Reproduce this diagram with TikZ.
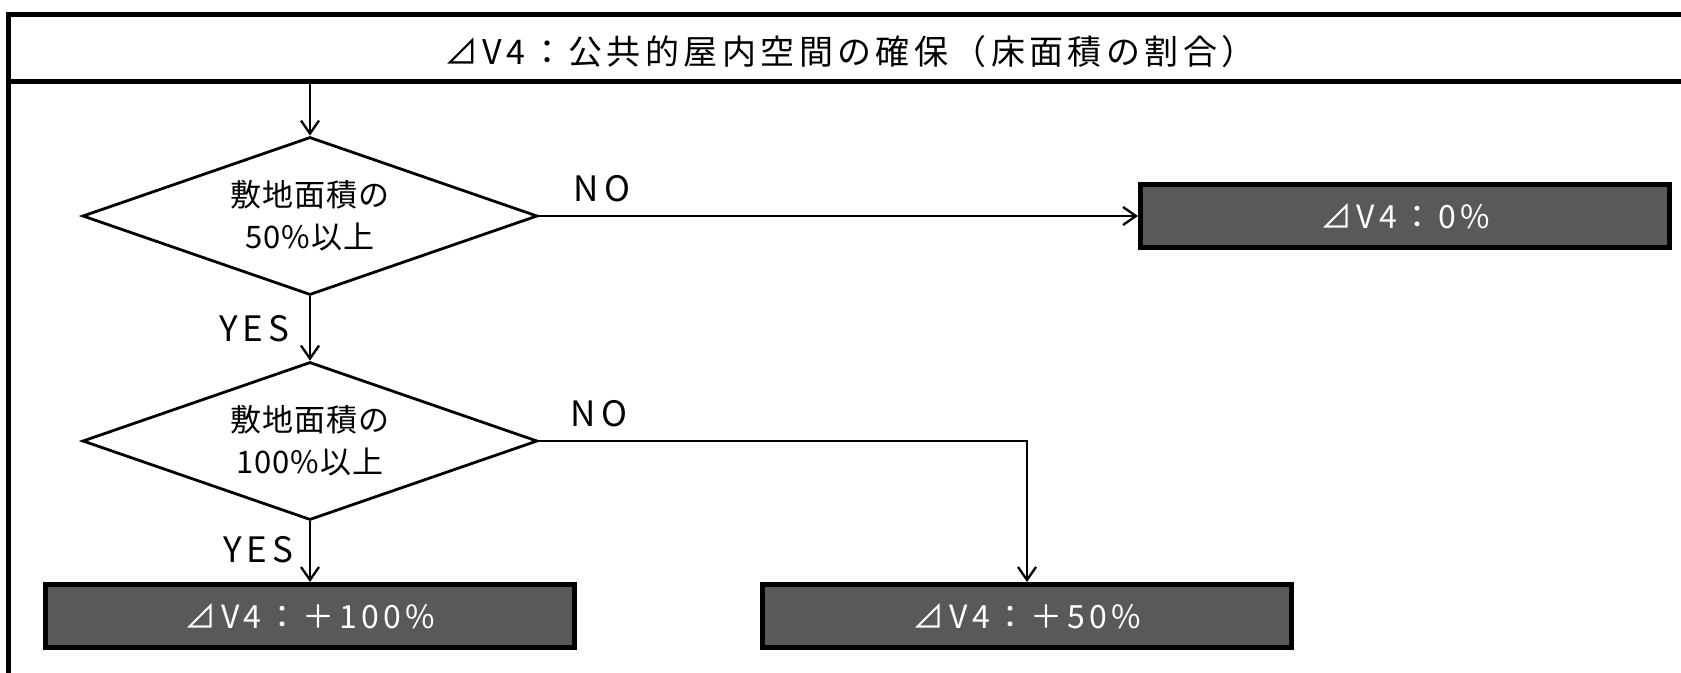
\documentclass[tikz,border=0pt]{standalone}
\usepackage{fontspec}
\newfontfamily\jpT[LetterSpace=13]{Noto Sans CJK JP}
\newfontfamily\jpB[LetterSpace=14]{Noto Sans CJK JP}
\newfontfamily\jpD[LetterSpace=3]{Noto Sans CJK JP}
\usetikzlibrary{shapes.geometric,arrows.meta}
\definecolor{boxgray}{HTML}{595959}
\begin{document}
\begin{tikzpicture}[x=1pt,y=-1pt,
 frame/.style={line width=5pt},
 decision/.style={diamond, draw, line width=2.8pt, minimum width=455pt, minimum height=158pt, inner sep=0pt, aspect=2.8, align=center, font=\jpD\fontsize{31}{42}\selectfont},
 result/.style={rectangle, draw, fill=boxgray, line width=5pt, minimum width=529pt, minimum height=63pt, inner sep=0pt, text=white, font=\jpB\fontsize{32}{36}\selectfont},
 flow/.style={line width=2.3pt, -{Straight Barb[length=13pt,width=18pt]}},
 lbl/.style={font=\jpB\fontsize{35}{40}\selectfont, inner sep=0pt}]
\useasboundingbox (0,0) rectangle (1681,672);
% frame
\draw[frame] (1690,14) -- (8.5,14) -- (8.5,680);
\draw[frame] (8.5,81) -- (1690,81);
\node[font=\jpT\fontsize{34}{40}\selectfont, inner sep=0pt] (title) at (850,52) {⊿V4：公共的屋内空間の確保（床面積の割合）};
\coordinate (t) at (310,83.5);
% nodes
\node[decision] (D1) at (310,216) {敷地面積の\\50\%以上};
\node[decision] (D2) at (310,441) {敷地面積の\\100\%以上};
\node[result] (B0) at (1405,216) {⊿V4：0\%};
\node[result] (B100) at (310,616) {⊿V4：＋100\%};
\node[result] (B50) at (1027,616) {⊿V4：＋50\%};
% connectors
\draw[flow] (t) -- (D1.north);
\draw[flow] (D1.south) -- (D2.north);
\draw[flow] (D1.east) -- (D1.east -| B0.west);
\draw[flow] (D2.south) -- (D2.south |- B100.north);
\draw[flow] (D2.east) -| (B50.north);
% labels
\node[lbl] (no1) at (602,189) {NO};
\node[lbl] (no2) at (599,414) {NO};
\node[lbl] (yes1) at (254,329) {YES};
\node[lbl] (yes2) at (258,550) {YES};
\end{tikzpicture}
\end{document}
